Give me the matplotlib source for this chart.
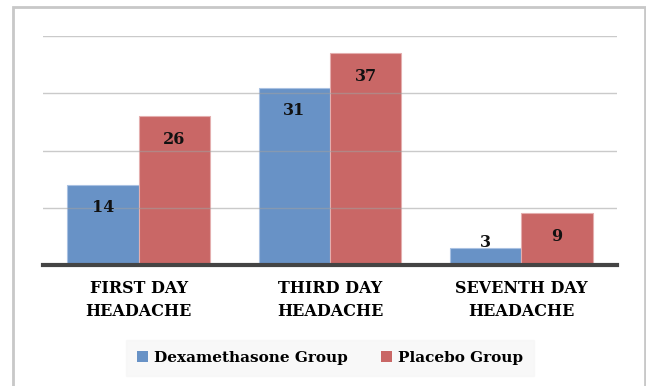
import numpy as np
import matplotlib.pyplot as plt
from matplotlib.patches import Rectangle

categories = ['FIRST DAY\nHEADACHE', 'THIRD DAY\nHEADACHE', 'SEVENTH DAY\nHEADACHE']
dexa = [14, 31, 3]
placebo = [26, 37, 9]
series_names = ['Dexamethasone Group', 'Placebo Group']

blue = '#6892c6'
red = '#c96766'
serif = ['DejaVu Serif']

fig = plt.figure(figsize=(6.46, 3.86), dpi=100)
fig.patch.set_facecolor('white')

# outer chart frame
fig.add_artist(Rectangle((13 / 646, -0.01), 632 / 646, 1 - 7 / 386 + 0.01,
                         transform=fig.transFigure, fill=False,
                         edgecolor='#c8c8c8', linewidth=2))

ax = fig.add_axes([43 / 646, 1 - 265 / 386, 574 / 646, 229 / 386])
x = np.arange(len(categories))
w = 0.372

b1 = ax.bar(x - w / 2, dexa, w, color=blue, edgecolor='#a9c1e2', linewidth=0.8,
            label=series_names[0], zorder=2)
b2 = ax.bar(x + w / 2, placebo, w, color=red, edgecolor='#e4aeae', linewidth=0.8,
            label=series_names[1], zorder=2)

ax.set_xlim(-0.5, 2.5)
ax.set_ylim(0, 40)
ax.set_yticks([10, 20, 30, 40])
for gy in [10, 20, 30, 40]:
    ax.axhline(gy, color='#a0a0a0', linewidth=1, alpha=0.55, zorder=3)
ax.tick_params(axis='y', left=False, labelleft=False)
ax.tick_params(axis='x', length=0, pad=11)
ax.set_xticks(x)
ax.set_xticklabels(categories, fontfamily=serif, fontweight='bold', fontsize=11.5,
                   linespacing=1.45)
for s in ['top', 'right', 'left']:
    ax.spines[s].set_visible(False)
ax.spines['bottom'].set_color('#444444')
ax.spines['bottom'].set_linewidth(3)
ax.spines['bottom'].set_zorder(4)

# value labels inside the bar ends
for bars, vals in [(b1, dexa), (b2, placebo)]:
    for rect, v in zip(bars, vals):
        cx = rect.get_x() + rect.get_width() / 2
        ly = v - 4 if v > 8 else v + 0.85
        ax.text(cx, ly, str(v), ha='center', va='center', fontfamily=serif,
                fontweight='bold', fontsize=11.5, color='#111111', zorder=5)

leg = fig.legend(loc='center', bbox_to_anchor=(330 / 646, 1 - 358 / 386), ncol=2,
                 frameon=True, fancybox=False, handlelength=0.7, handleheight=0.7,
                 handletextpad=0.4, columnspacing=2.2, borderpad=0.7,
                 prop={'family': serif, 'weight': 'bold', 'size': 11})
leg.get_frame().set_facecolor('#f7f7f7')
leg.get_frame().set_edgecolor('#f7f7f7')
for h in leg.legend_handles:
    h.set_edgecolor('none')

fig.savefig('out.png', dpi=100)
